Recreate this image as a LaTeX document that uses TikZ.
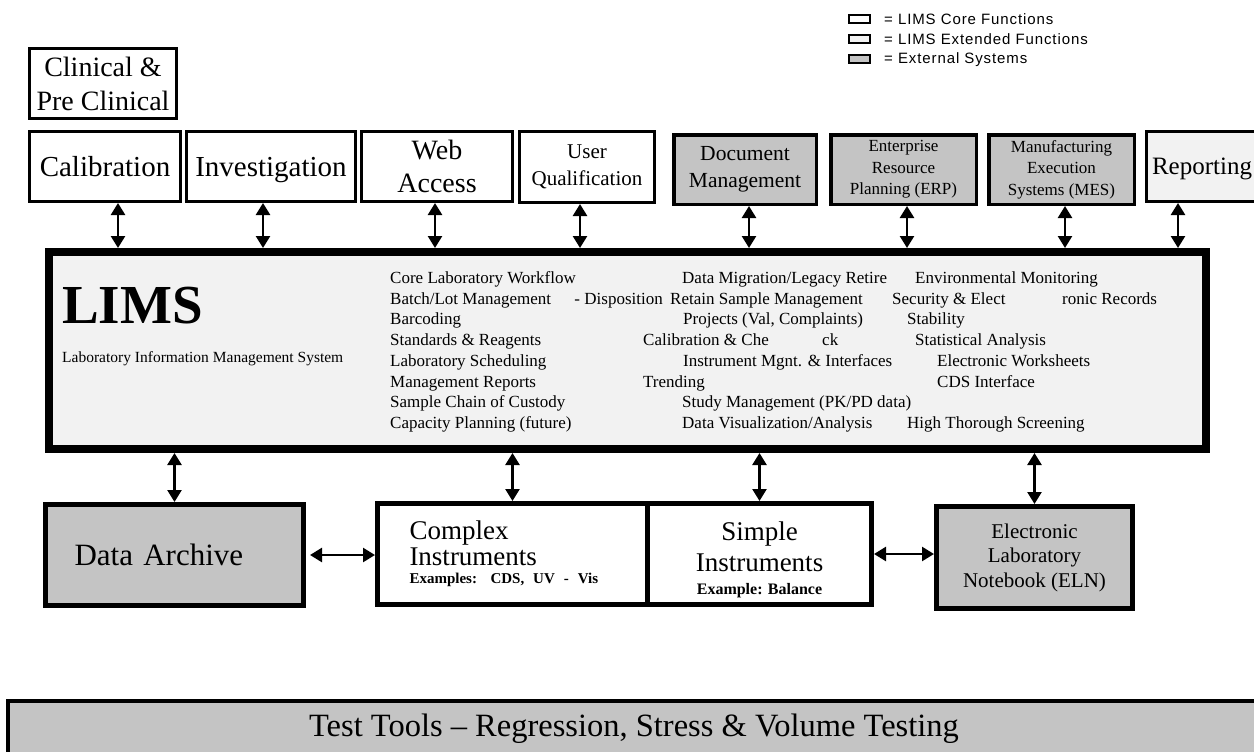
\documentclass[tikz,border=0pt]{standalone}
\usepackage{fontspec}
\setmainfont{Liberation Serif}
\newfontfamily\legendfont[LetterSpace=6]{Liberation Sans}
\usetikzlibrary{arrows.meta}
\usetikzlibrary{positioning}

\definecolor{extgray}{HTML}{F2F2F2}
\definecolor{sysgray}{HTML}{C4C4C4}

\begin{document}
\begin{tikzpicture}[x=1pt, y=-1pt,
            >={Triangle[length=12pt,width=14pt]},
            box/.style={draw, rectangle, inner sep=2pt, align=center},
            topbox/.style={box, line width=3pt, minimum height=70pt},
            lowbox/.style={box, line width=5pt},
            core/.style={fill=white},
            ext/.style={fill=extgray},
            sys/.style={fill=sysgray},
            link/.style={<->, line width=2.5pt},
            fn/.style={anchor=base west, inner sep=0pt, font=\fontsize{17}{20}\selectfont},
            legend/.style={anchor=west, inner sep=0pt, font=\legendfont\fontsize{15}{17}\selectfont}
        ]
            \path[fill=white, use as bounding box] (0,0) rectangle (1254,752);
            \clip (0,0) rectangle (1254,752);

            % Legend
            \node[box, core, line width=2pt, minimum width=21pt, minimum height=8pt, inner sep=0pt] (lgcore) at (859.5,19) {};
            \node[box, ext, line width=2pt, minimum width=21pt, minimum height=8pt, inner sep=0pt] (lgext) at (859.5,39) {};
            \node[box, sys, line width=2pt, minimum width=21pt, minimum height=8pt, inner sep=0pt] (lgsys) at (859.5,59.5) {};
            \node[legend, right=13pt of lgcore] (lgcoretxt) {= LIMS Core Functions};
            \node[legend, right=13pt of lgext] (lgexttxt) {= LIMS Extended Functions};
            \node[legend, right=13pt of lgsys] (lgsystxt) {= External Systems};

            % Top row
            \node[topbox, core, minimum width=147pt, font=\fontsize{28}{34}\selectfont] (clin) at (103,83.5) {Clinical \&\\Pre Clinical};
            \node[topbox, core, minimum width=151pt, font=\fontsize{29}{34}\selectfont] (calib) at (105,166.5) {Calibration};
            \node[topbox, core, minimum width=169pt, text depth=0pt, font=\fontsize{29}{34}\selectfont] (invest) at (271,166.5) {Investigation};
            \node[topbox, core, minimum width=151pt, font=\fontsize{28}{33}\selectfont] (web) at (437,166.5) {Web\\Access};
            \node[topbox, core, minimum width=135pt, minimum height=71pt, font=\fontsize{21}{27}\selectfont] (userq) at (587,167) {User\\Qualification};
            \node[topbox, sys, line width=3.5pt, minimum width=142.5pt, minimum height=69.5pt, font=\fontsize{21.5}{27}\selectfont] (docm) at (745,169.5) {Document\\Management};
            \node[topbox, sys, line width=3.5pt, minimum width=145.5pt, minimum height=69.5pt, font=\fontsize{17}{21.5}\selectfont] (erp) at (903.5,169.5) {Enterprise\\Resource\\Planning (ERP)};
            \node[topbox, sys, line width=3.5pt, minimum width=145.5pt, minimum height=69.5pt, font=\fontsize{17}{21.5}\selectfont] (mes) at (1061.5,169.5) {Manufacturing\\Execution\\Systems (MES)};
            \node[topbox, ext, minimum width=111pt, text depth=0pt, font=\fontsize{25}{30}\selectfont] (report) at (1202,166.5) {Reporting};

            % LIMS
            \node[box, ext, line width=8pt, minimum width=1157pt, minimum height=197pt] (lims) at (627.5,350.5) {};
            \node[anchor=base west, inner sep=0pt, font=\bfseries\fontsize{55}{60}\selectfont] (limstitle) at (62,323) {LIMS};
            \node[anchor=base west, inner sep=0pt, font=\fontsize{15.5}{18}\selectfont] (limssub) at (62,362) {Laboratory Information Management System};

            \node[fn] (f11) at (390,283.5) {Core Laboratory Workflow};
            \node[fn] (f12) at (682,283.5) {Data Migration/Legacy Retire};
            \node[fn] (f13) at (915,283.5) {Environmental Monitoring};
            \node[fn] (f21) at (390,304.2) {Batch/Lot Management};
            \node[fn, anchor=base east] (f22) at (663,304.2) {- Disposition};
            \node[fn] (f23) at (670,304.2) {Retain Sample Management};
            \node[fn] (f24) at (892,304.2) {Security \& Elect};
            \node[fn] (f25) at (1062,304.2) {ronic Records};
            \node[fn] (f31) at (390,324.9) {Barcoding};
            \node[fn] (f32) at (683,324.9) {Projects (Val, Complaints)};
            \node[fn] (f33) at (907,324.9) {Stability};
            \node[fn] (f41) at (390,345.6) {Standards \& Reagents};
            \node[fn] (f42) at (643,345.6) {Calibration \& Che};
            \node[fn] (f43) at (822,345.6) {ck};
            \node[fn] (f44) at (915,345.6) {Statistical Analysis};
            \node[fn] (f51) at (390,366.3) {Laboratory Scheduling};
            \node[fn] (f52) at (683,366.3) {Instrument Mgnt. \& Interfaces};
            \node[fn] (f53) at (937,366.3) {Electronic Worksheets};
            \node[fn] (f61) at (390,387) {Management Reports};
            \node[fn] (f62) at (643,387) {Trending};
            \node[fn] (f63) at (937,387) {CDS Interface};
            \node[fn] (f71) at (390,407.7) {Sample Chain of Custody};
            \node[fn] (f72) at (682,407.7) {Study Management (PK/PD data)};
            \node[fn] (f81) at (390,428.4) {Capacity Planning (future)};
            \node[fn] (f82) at (682,428.4) {Data Visualization/Analysis};
            \node[fn] (f83) at (907,428.4) {High Thorough Screening};

            % Bottom row
            \node[lowbox, sys, minimum width=258pt, minimum height=101pt, text width=200pt, align=left, font=\fontsize{31}{36}\selectfont] (archive) at (174.5,555) {Data Archive};
            \node[lowbox, core, minimum width=270pt, minimum height=101pt, text width=206pt, align=left, font=\fontsize{27}{26}\selectfont] (complex) at (512.5,554) {Complex\\Instruments\\[-8pt]{\bfseries\fontsize{15}{18}\selectfont Examples: CDS, UV - Vis}};
            \node[lowbox, core, minimum width=224pt, minimum height=101pt, font=\fontsize{27}{31}\selectfont, right=-5pt of complex] (simple) {\rule{0pt}{30pt}Simple\\Instruments\\[-8pt]{\bfseries\fontsize{16}{18}\selectfont Example: Balance}};
            \node[lowbox, sys, minimum width=196pt, minimum height=102pt, font=\fontsize{21}{24.5}\selectfont] (eln) at (1034.5,557.5) {Electronic\\Laboratory\\Notebook (ELN)};

            % Test tools
            \node[box, sys, line width=4pt, minimum width=1252pt, minimum height=55pt, font=\fontsize{32.5}{36}\selectfont] (tools) at (634,728.5) {Test Tools – Regression, Stress \& Volume Testing};

            % Links to LIMS
            \draw[link] ([xshift=13pt]calib.south) -- ([xshift=13pt]calib.south |- lims.north);
            \draw[link] ([xshift=-8pt]invest.south) -- ([xshift=-8pt]invest.south |- lims.north);
            \draw[link] ([xshift=-2pt]web.south) -- ([xshift=-2pt]web.south |- lims.north);
            \draw[link] ([xshift=-7pt]userq.south) -- ([xshift=-7pt]userq.south |- lims.north);
            \draw[link] ([xshift=4pt]docm.south) -- ([xshift=4pt]docm.south |- lims.north);
            \draw[link] ([xshift=3.5pt]erp.south) -- ([xshift=3.5pt]erp.south |- lims.north);
            \draw[link] ([xshift=3.5pt]mes.south) -- ([xshift=3.5pt]mes.south |- lims.north);
            \draw[link] ([xshift=-24pt]report.south) -- ([xshift=-24pt]report.south |- lims.north);

            \draw[link] (lims.south -| archive.north) -- (archive.north);
            \draw[link] (lims.south -| complex.north) -- (complex.north);
            \draw[link] (lims.south -| simple.north) -- (simple.north);
            \draw[link] (lims.south -| eln.north) -- (eln.north);
            \draw[link, shorten <=4pt] (archive.east) -- (archive.east -| complex.west);
            \draw[link] (simple.east) -- (simple.east -| eln.west);
        \end{tikzpicture}
\end{document}
